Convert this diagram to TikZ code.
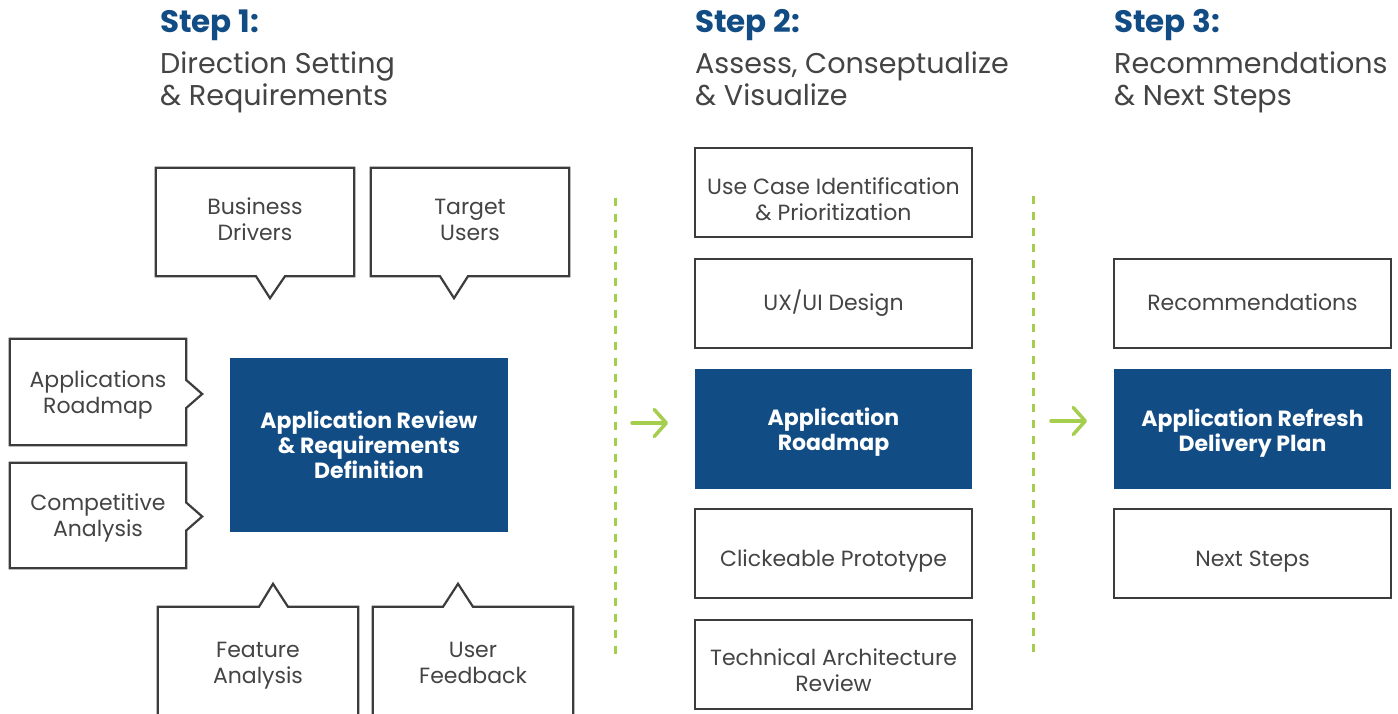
\documentclass[tikz,border=0pt]{standalone}
\usepackage{fontspec}
\setmainfont{Poppins}
\usetikzlibrary{positioning,calc,arrows.meta}

\definecolor{stepblue}{HTML}{124C85}
\definecolor{boxline}{HTML}{3C3C3C}
\definecolor{bodytext}{HTML}{444444}
\definecolor{flowgreen}{HTML}{A5CD4E}

\tikzset{
  body/.style={font=\fontsize{22}{26}\selectfont, text=bodytext, align=center},
  plainbox/.style={body, draw=boxline, line width=2.2pt, minimum width=277pt, minimum height=89pt, inner sep=0pt},
  darkbox/.style={plainbox, draw=none, fill=stepblue, text=white, font=\fontsize{22}{25}\selectfont\bfseries, minimum height=120pt},
  calltext/.style={body, inner sep=0pt},
  % sets where the last baseline sits: box center + #1/2
  textat/.style={text depth=0pt, text height=#1},
  outline/.style={draw=boxline, line width=2.2pt, line join=miter},
  steptitle/.style={anchor=base west, inner sep=0pt, text=stepblue, font=\fontsize{31}{34}\selectfont\bfseries},
  stepsub/.style={anchor=base west, inner sep=0pt, text=bodytext, align=left, font=\fontsize{28.6}{32}\selectfont},
  divider/.style={flowgreen, line width=3pt, dash pattern=on 8pt off 8pt},
  flow/.style={flowgreen, line width=3.5pt, line cap=round, -{Straight Barb[length=12pt,width=27pt,round]}}
}

\begin{document}
\begin{tikzpicture}[x=1pt,y=-1pt]
\fill[white] (0,0) rectangle (1398,713);
\useasboundingbox (0,0) rectangle (1398,713);

% step headings
\node[steptitle] (s1) at (160,32) {Step 1:};
\node[stepsub] (s1sub) at (160,105) {Direction Setting\\\& Requirements};
\node[steptitle] (s2) at (695,32) {Step 2:};
\node[stepsub] (s2sub) at (695,105) {Assess, Conseptualize\\\& Visualize};
\node[steptitle] (s3) at (1114,32) {Step 3:};
\node[stepsub] (s3sub) at (1114,105) {Recommendations\\\& Next Steps};

% step 1: inputs around the review
\node[darkbox, textat=66pt, minimum width=278pt, minimum height=174pt] (rev) at (369,445) {Application Review\\\& Requirements\\Definition};

\node[calltext, textat=36pt, minimum width=198pt, minimum height=108pt] (bd) at (255,222) {Business\\Drivers};
\draw[outline] (bd.north west) -- (bd.north east) -- (bd.south east) -- ($(bd.south)+(30,0)$) -- ($(bd.south)+(15,22)$) -- ($(bd.south)+(1,0)$) -- (bd.south west) -- cycle;

\node[calltext, textat=36pt, minimum width=198pt, minimum height=108pt] (tu) at (470,222) {Target\\Users};
\draw[outline] (tu.north west) -- (tu.north east) -- (tu.south east) -- ($(tu.south)+(-2,0)$) -- ($(tu.south)+(-16,22)$) -- ($(tu.south)+(-30,0)$) -- (tu.south west) -- cycle;

\node[calltext, textat=42pt, minimum width=176pt, minimum height=106pt] (ar) at (98,392) {Applications\\Roadmap};
\draw[outline] (ar.north west) -- (ar.north east) -- ($(ar.east)+(0,-12)$) -- ($(ar.east)+(16,2)$) -- ($(ar.east)+(0,16)$) -- (ar.south east) -- (ar.south west) -- cycle;

\node[calltext, textat=41pt, minimum width=176pt, minimum height=105pt] (ca) at (98,515.5) {Competitive\\Analysis};
\draw[outline] (ca.north west) -- (ca.north east) -- ($(ca.east)+(0,-13)$) -- ($(ca.east)+(16,1)$) -- ($(ca.east)+(0,15)$) -- (ca.south east) -- (ca.south west) -- cycle;

\node[calltext, textat=38pt, minimum width=200pt, minimum height=114pt] (fa) at (258,664) {Feature\\Analysis};
\draw[outline] (fa.south west) -- (fa.north west) -- ($(fa.north)+(1,0)$) -- ($(fa.north)+(15,-23)$) -- ($(fa.north)+(30,0)$) -- (fa.north east) -- (fa.south east);

\node[calltext, textat=38pt, minimum width=200pt, minimum height=114pt] (uf) at (473,664) {User\\Feedback};
\draw[outline] (uf.south west) -- (uf.north west) -- ($(uf.north)+(-30,0)$) -- ($(uf.north)+(-15,-23)$) -- ($(uf.north)+(0,0)$) -- (uf.north east) -- (uf.south east);

% dividers and arrows
\draw[divider] (615,198) -- (615,655);
\draw[divider] (1033,196) -- (1033,652);
\draw[flow] (632,423) -- (668,423);
\draw[flow] (1051,421) -- (1087,421);

% step 2
\node[plainbox, textat=55pt] (uc) at (833.5,192.5) {Use Case Identification\\\& Prioritization};
\node[plainbox, textat=13pt, below=19.8pt of uc] (ux) {UX/UI Design};
\node[darkbox, textat=42pt, below=18.8pt of ux] (rm) {Application\\Roadmap};
\node[plainbox, textat=25pt, below=17.8pt of rm] (cp) {Clickeable Prototype};
\node[plainbox, textat=54pt, below=19.8pt of cp] (ta) {Technical Architecture\\Review};

% step 3
\node[plainbox, textat=13pt] (rc) at (1252.5,303.5) {Recommendations};
\node[darkbox, textat=45pt, below=18.8pt of rc] (dp) {Application Refresh\\Delivery Plan};
\node[plainbox, textat=25pt, below=17.8pt of dp] (ns) {Next Steps};

\end{tikzpicture}
\end{document}
